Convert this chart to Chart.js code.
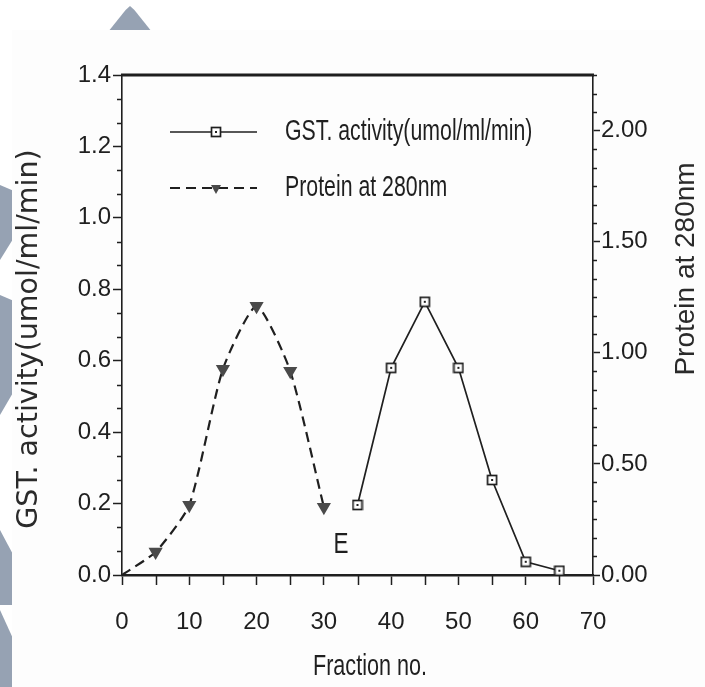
<!DOCTYPE html>
<html>
<head>
<meta charset="utf-8">
<script src="https://cdn.jsdelivr.net/npm/chart.js@4.4.1/dist/chart.umd.min.js"></script>
<style>
  html, body { margin: 0; padding: 0; background: #ffffff; }
  #wrap { position: relative; width: 705px; height: 687px; overflow: hidden; }
  .deco { position: absolute; background: #96a2b3; }
  #paper { position: absolute; left: 12px; top: 30px; width: 693px; height: 657px; background: #fdfdfd; }
  canvas { position: absolute; left: 0; top: 0; }
</style>
</head>
<body>
<div id="wrap">
  <div class="deco" style="left:108px; top:6px; width:44px; height:26px; clip-path: polygon(0 100%, 40% 15%, 50% 0, 60% 15%, 100% 100%);"></div>
  <div class="deco" style="left:0; top:185px; width:14px; height:75px; clip-path: polygon(0 0, 100% 8%, 100% 70%, 0 100%);"></div>
  <div class="deco" style="left:0; top:295px; width:14px; height:120px; clip-path: polygon(0 0, 100% 5%, 100% 80%, 0 100%);"></div>
  <div class="deco" style="left:0; top:530px; width:14px; height:75px; clip-path: polygon(0 0, 100% 35%, 100% 100%, 0 100%);"></div>
  <div class="deco" style="left:0; top:610px; width:14px; height:77px; clip-path: polygon(0 0, 100% 40%, 100% 100%, 0 100%);"></div>
  <div id="paper"></div>
  <canvas id="c" width="705" height="687"></canvas>
</div>
<script>
// ---- data ----
const proteinFractions = [0, 5, 10, 15, 20, 25, 30];
const proteinValues    = [0, 0.104, 0.315, 0.927, 1.21, 0.918, 0.306];   // Protein at 280nm (right axis)
const gstFractions     = [35, 40, 45, 50, 55, 60, 65];
const gstValues        = [0.196, 0.58, 0.765, 0.58, 0.266, 0.037, 0.012]; // GST activity (left axis)
const xTickValues      = [0, 10, 20, 30, 40, 50, 60, 70];
const leftTickValues   = [0.0, 0.2, 0.4, 0.6, 0.8, 1.0, 1.2, 1.4];
const rightTickValues  = [0.00, 0.50, 1.00, 1.50, 2.00];

const seriesNames = ['GST. activity(umol/ml/min)', 'Protein at 280nm'];
const xTitle = 'Fraction no.';
const yTitle = 'GST. activity(umol/ml/min)';
const y1Title = 'Protein at 280nm';
const panelLabel = 'E';

// ---- styles ----
const INK = '#1f1f1f';
const SANS = "'Liberation Sans', Arial, sans-serif";
const tickFont = { family: SANS, size: 24 };

// narrow-looking text (regular face squeezed horizontally)
function narrowText(ctx, text, x, y, align, size, sx) {
  ctx.save();
  ctx.font = size + "px " + SANS;
  ctx.textAlign = align; ctx.textBaseline = 'middle';
  ctx.translate(x, y); ctx.scale(sx, 1);
  ctx.fillText(text, 0, 0);
  ctx.restore();
}

// open square marker with a centre dot
function makeSquare() {
  const cv = document.createElement('canvas');
  cv.width = 12; cv.height = 12;
  const g = cv.getContext('2d');
  g.fillStyle = '#ffffff';
  g.fillRect(1, 1, 10, 10);
  g.strokeStyle = INK; g.lineWidth = 1.7;
  g.strokeRect(1.5, 1.5, 9, 9);
  g.fillStyle = INK;
  g.fillRect(5, 5, 2, 2);
  return cv;
}
const squareMark = makeSquare();

const proteinData = proteinFractions.map((x, i) => ({ x, y: proteinValues[i] }));
const gstData = gstFractions.map((x, i) => ({ x, y: gstValues[i] }));

function minorValues(max, step, majorStep) {
  const out = [];
  const n = Math.round(max / step);
  for (let i = 0; i <= n; i++) {
    const v = i * step;
    const r = v / majorStep;
    if (Math.abs(r - Math.round(r)) > 1e-6) out.push(v);
  }
  return out;
}

const decorPlugin = {
  id: 'decor',
  afterDraw(chart) {
    const { ctx, chartArea: ca, scales } = chart;
    const xs = scales.x, ys = scales.y, y1s = scales.y1;
    ctx.save();
    ctx.strokeStyle = INK;
    ctx.fillStyle = INK;
    // top frame line
    ctx.lineWidth = 3;
    ctx.beginPath(); ctx.moveTo(ca.left - 1, ca.top); ctx.lineTo(ca.right + 1, ca.top); ctx.stroke();
    // minor ticks
    ctx.lineWidth = 1.5;
    minorValues(1.4, 0.2 / 3, 0.2).forEach(v => {
      const p = Math.round(ys.getPixelForValue(v)) + 0.5;
      ctx.beginPath(); ctx.moveTo(ca.left, p); ctx.lineTo(ca.left - 5, p); ctx.stroke();
    });
    minorValues(2.25, 0.5 / 6, 0.5).forEach(v => {
      const p = Math.round(y1s.getPixelForValue(v)) + 0.5;
      ctx.beginPath(); ctx.moveTo(ca.right, p); ctx.lineTo(ca.right + 4, p); ctx.stroke();
    });
    minorValues(70, 5, 10).forEach(v => {
      const p = Math.round(xs.getPixelForValue(v)) + 0.5;
      ctx.beginPath(); ctx.moveTo(p, ca.bottom); ctx.lineTo(p, ca.bottom + 10); ctx.stroke();
    });
    // legend
    const ds = chart.data.datasets;
    const rows = [132, 188];
    const lx0 = 170, lx1 = 257, mx = 216, tx = 285;
    ds.forEach((d, i) => {
      const y = rows[i];
      ctx.save();
      ctx.strokeStyle = d.borderColor; ctx.lineWidth = d.borderWidth;
      ctx.setLineDash(d.borderDash || []);
      ctx.beginPath(); ctx.moveTo(lx0, y); ctx.lineTo(lx1, y); ctx.stroke();
      ctx.restore();
      if (i === 0) {
        ctx.drawImage(squareMark, mx - 6, y - 6);
      } else {
        ctx.save();
        ctx.fillStyle = d.pointBackgroundColor;
        ctx.beginPath();
        ctx.moveTo(mx - 5, y - 3); ctx.lineTo(mx + 5, y - 3); ctx.lineTo(mx, y + 6); ctx.closePath();
        ctx.fill();
        ctx.restore();
      }
      narrowText(ctx, d.label, tx, y, 'left', 30, 0.71);
    });
    // panel label
    narrowText(ctx, panelLabel, 341, 545, 'center', 30, 0.75);
    // x title
    narrowText(ctx, xTitle, 370, 667, 'center', 30, 0.72);
    // left title
    ctx.save();
    ctx.translate(30, 339); ctx.rotate(-Math.PI / 2);
    ctx.fillStyle = '#2a2a2a';
    ctx.font = "28.5px 'DejaVu Sans', sans-serif";
    ctx.textAlign = 'center'; ctx.textBaseline = 'middle';
    ctx.fillText(yTitle, 0, 0);
    ctx.restore();
    // right title
    ctx.save();
    ctx.translate(686, 269); ctx.rotate(-Math.PI / 2);
    ctx.fillStyle = '#2a2a2a';
    ctx.font = "28px " + SANS;
    ctx.textAlign = 'center'; ctx.textBaseline = 'middle';
    ctx.fillText(y1Title, 0, 0);
    ctx.restore();
    ctx.restore();
  }
};

new Chart(document.getElementById('c'), {
  type: 'line',
  data: {
    datasets: [
      {
        label: seriesNames[0],
        data: gstData,
        yAxisID: 'y',
        borderColor: INK,
        borderWidth: 1.7,
        pointStyle: squareMark,
        pointRadius: 6,
        pointBackgroundColor: '#ffffff',
        pointBorderColor: INK,
        tension: 0
      },
      {
        label: seriesNames[1],
        data: proteinData,
        yAxisID: 'y1',
        borderColor: INK,
        borderWidth: 2.2,
        borderDash: [10, 6],
        pointStyle: 'triangle',
        rotation: 180,
        pointRadius: ctx => ctx.dataIndex === 0 ? 0 : 6,
        pointBackgroundColor: '#4a4a4a',
        pointBorderColor: '#4a4a4a',
        tension: 0.2
      }
    ]
  },
  options: {
    responsive: false,
    animation: false,
    layout: { padding: { top: 75, left: 0, right: 0, bottom: 0 } },
    plugins: { legend: { display: false }, tooltip: { enabled: false }, title: { display: false } },
    scales: {
      x: {
        type: 'linear', position: 'bottom', min: 0, max: 70,
        afterBuildTicks: s => { s.ticks = xTickValues.map(v => ({ value: v })); },
        afterFit: s => { s.height = 112; },
        ticks: { autoSkip: false, maxRotation: 0, font: tickFont, color: INK, padding: 23, callback: v => String(v) },
        grid: { drawOnChartArea: false, drawTicks: true, tickLength: 10, tickColor: INK, tickWidth: 1.5 },
        border: { color: INK, width: 2.5 }
      },
      y: {
        type: 'linear', position: 'left', min: 0, max: 1.4,
        afterBuildTicks: s => { s.ticks = leftTickValues.map(v => ({ value: v })); },
        afterFit: s => { s.width = 122; },
        ticks: { font: tickFont, color: INK, padding: 2, callback: v => Number(v).toFixed(1) },
        grid: { drawOnChartArea: false, drawTicks: true, tickLength: 9, tickColor: INK, tickWidth: 1.5 },
        border: { color: INK, width: 1.6 }
      },
      y1: {
        type: 'linear', position: 'right', min: 0, max: 2.25,
        afterBuildTicks: s => { s.ticks = rightTickValues.map(v => ({ value: v })); },
        afterFit: s => { s.width = 112; },
        ticks: { font: tickFont, color: INK, padding: 1, callback: v => Number(v).toFixed(2) },
        grid: { drawOnChartArea: false, drawTicks: true, tickLength: 7, tickColor: INK, tickWidth: 1.5 },
        border: { color: INK, width: 1.6 }
      }
    }
  },
  plugins: [decorPlugin]
});
</script>
</body>
</html>
